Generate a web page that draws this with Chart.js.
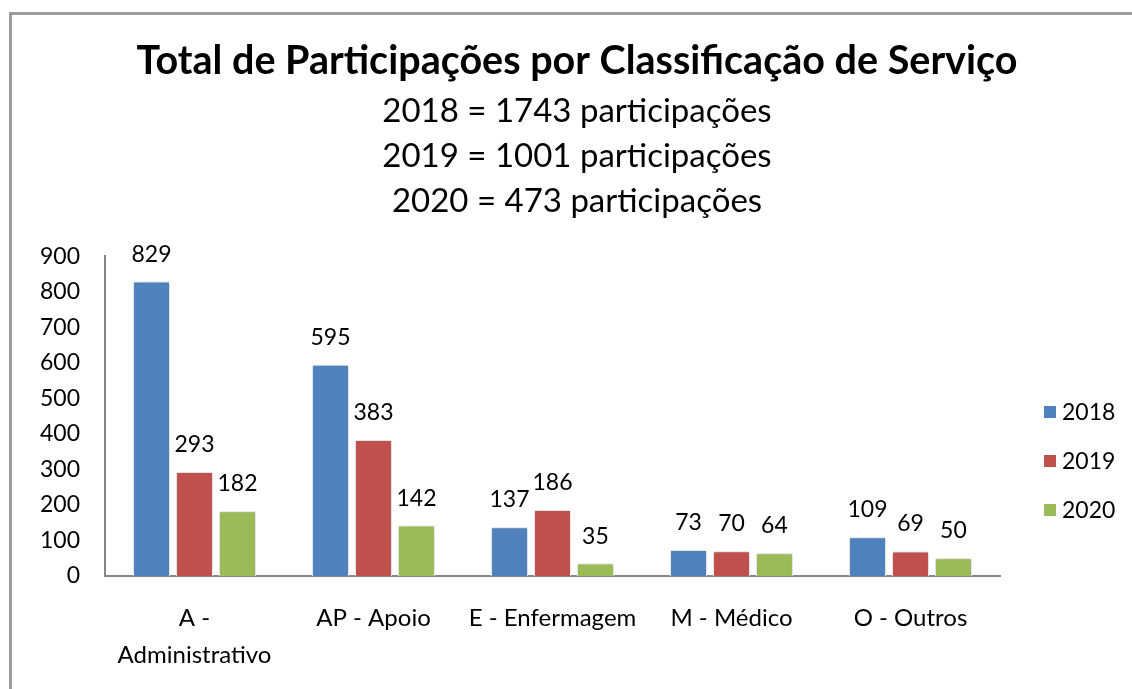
<!DOCTYPE html>
<html>
<head>
<meta charset="utf-8">
<script src="https://cdn.jsdelivr.net/npm/chart.js@4"></script>
<style>
  html, body { margin: 0; padding: 0; background: #fff; overflow: hidden; }
  #wrap { position: relative; width: 1132px; height: 689px; }
  #frame { position: absolute; left: 9px; top: 12px; width: 1200px; height: 800px;
           border-left: 3px solid #9d9d9d; border-top: 3px solid #9d9d9d; pointer-events: none; }
  canvas { position: absolute; left: 0; top: 0; }
</style>
</head>
<body>
<div id="wrap">
  <canvas id="c" width="1132" height="689"></canvas>
  <div id="frame"></div>
</div>
<script>
const categories = [['A -', 'Administrativo'], 'AP - Apoio', 'E - Enfermagem', 'M - Médico', 'O - Outros'];
const seriesNames = ['2018', '2019', '2020'];
const values2018 = [829, 595, 137, 73, 109];
const values2019 = [293, 383, 186, 70, 69];
const values2020 = [182, 142, 35, 64, 50];
const yTicks = [0, 100, 200, 300, 400, 500, 600, 700, 800, 900];
const titleText = 'Total de Participações por Classificação de Serviço';
const subtitleLines = ['2018 = 1743 participações', '2019 = 1001 participações', '2020 = 473 participações'];
const colors = ['#4F81BD', '#C0504D', '#9BBB59'];

const FONT = 'Lato, "Open Sans", sans-serif';

const valueLabels = {
  id: 'valueLabels',
  afterDatasetsDraw(chart) {
    const ctx = chart.ctx;
    ctx.save();
    ctx.font = '23px ' + FONT;
    ctx.fillStyle = '#000';
    ctx.textAlign = 'center';
    ctx.textBaseline = 'alphabetic';
    chart.data.datasets.forEach((ds, i) => {
      const meta = chart.getDatasetMeta(i);
      meta.data.forEach((el, j) => {
        ctx.fillText(String(ds.data[j]), el.x, el.y - 20);
      });
    });
    ctx.restore();
  }
};

const barShadow = {
  id: 'barShadow',
  beforeDatasetsDraw(chart) {
    const ctx = chart.ctx;
    ctx.save();
    ctx.shadowColor = 'rgba(0,0,0,0.28)';
    ctx.shadowBlur = 4;
    ctx.shadowOffsetX = 0;
    ctx.shadowOffsetY = 0;
  },
  afterDatasetsDraw(chart) {
    chart.ctx.restore();
  }
};

const sideLegend = {
  id: 'sideLegend',
  afterDraw(chart) {
    const ctx = chart.ctx;
    ctx.save();
    ctx.font = '23px ' + FONT;
    ctx.textAlign = 'left';
    ctx.textBaseline = 'middle';
    const x0 = 1044, y0 = 412, step = 49;
    chart.data.datasets.forEach((ds, i) => {
      const y = y0 + i * step;
      ctx.fillStyle = ds.backgroundColor;
      ctx.fillRect(x0, y - 6, 12, 12);
      ctx.fillStyle = '#000';
      ctx.fillText(ds.label, x0 + 18, y + 1);
    });
    ctx.restore();
  }
};

new Chart(document.getElementById('c'), {
  type: 'bar',
  data: {
    labels: categories,
    datasets: [
      { label: seriesNames[0], data: values2018, backgroundColor: colors[0] },
      { label: seriesNames[1], data: values2019, backgroundColor: colors[1] },
      { label: seriesNames[2], data: values2020, backgroundColor: colors[2] }
    ]
  },
  options: {
    responsive: false,
    animation: false,
    devicePixelRatio: 1,
    layout: { padding: { top: 38, right: 0, bottom: 0, left: 22 } },
    datasets: {
      bar: {
        categoryPercentage: 0.72,
        barPercentage: 0.86,
        borderColor: 'rgba(255,255,255,0.9)',
        borderWidth: 1
      }
    },
    plugins: {
      legend: { display: false },
      tooltip: { enabled: false },
      title: {
        display: true,
        text: titleText,
        color: '#000',
        font: { family: FONT, size: 39.5, weight: 'bold', lineHeight: 1.2 },
        padding: { top: 0, bottom: 3 }
      },
      subtitle: {
        display: true,
        text: subtitleLines,
        color: '#000',
        font: { family: FONT, size: 33, weight: 'normal', lineHeight: '45px' },
        padding: { top: 0, bottom: 33 }
      }
    },
    scales: {
      x: {
        grid: { display: false, drawTicks: false },
        border: { display: true, color: '#868686', width: 2 },
        ticks: {
          color: '#000',
          font: { family: FONT, size: 24, lineHeight: '37px' },
          padding: 24,
          maxRotation: 0,
          autoSkip: false
        },
        afterFit(s) { s.height = 113; }
      },
      y: {
        min: 0,
        max: 900,
        afterBuildTicks(s) { s.ticks = yTicks.map(v => ({ value: v })); },
        grid: { display: false, drawTicks: false },
        border: { display: true, color: '#868686', width: 2 },
        ticks: {
          color: '#000',
          font: { family: FONT, size: 23 },
          padding: 25
        },
        afterFit(s) { s.width = 83; }
      },
      legendSpace: {
        type: 'linear',
        position: 'right',
        display: true,
        grid: { display: false, drawTicks: false },
        border: { display: false },
        ticks: { display: false },
        afterFit(s) { s.width = 132; }
      }
    }
  },
  plugins: [barShadow, valueLabels, sideLegend]
});
</script>
</body>
</html>
